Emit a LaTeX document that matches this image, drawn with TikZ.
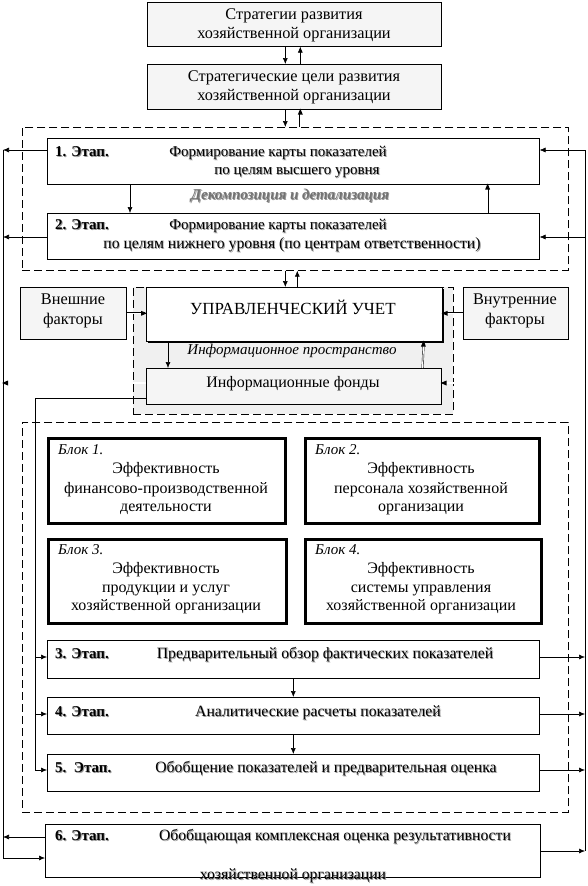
\documentclass[tikz,border=0pt]{standalone}
\usepackage{fontspec}
\setmainfont{Liberation Serif}
\usetikzlibrary{arrows.meta,shadows,decorations.markings}
\newcommand\shtext[1]{\makebox[0pt][l]{\hspace{0.9pt}\raisebox{-0.9pt}{\textcolor{black!40}{#1}}}#1}
\begin{document}
\begin{tikzpicture}[x=1pt,y=-1pt,
  box/.style={draw, line width=0.6pt, rectangle, inner sep=0pt, anchor=north west},
  lightbox/.style={box, fill=gray!8},
  blockbox/.style={draw, line width=3.2pt, rectangle, inner sep=0pt, anchor=north west, fill=white},
  dashbox/.style={draw, line width=0.7pt, dash pattern=on 8pt off 4pt, rectangle, inner sep=0pt, anchor=north west},
  txt/.style={inner sep=0pt, font=\fontsize{15}{18}\selectfont, text height=10pt, text depth=3pt},
  ltxt/.style={txt, font=\fontsize{15.7}{18}\selectfont},
  ktxt/.style={txt, font=\fontsize{16}{19}\selectfont},
  bigtxt/.style={txt, font=\fontsize{16.3}{19}\selectfont},
  stxt/.style={txt, anchor=west},
  conn/.style={line width=0.6pt},
  arr/.style={conn, -{Latex[length=6pt,width=5pt]}},
  darr/.style={line width=0.4pt, double, double distance=1.2pt, shorten >=1pt,
    postaction={decorate, decoration={markings, mark=at position 1 with {\fill[black] (1pt,0pt) -- (-5pt,2.5pt) -- (-5pt,-2.5pt) -- cycle;}}}}
]
\useasboundingbox (0,0) rectangle (588,886);
\fill[white] (0,0) rectangle (588,886);

% top boxes
\node[lightbox, minimum width=294pt, minimum height=44pt] (A) at (147,2) {};
\node[bigtxt] (A1) at (294,16) {Стратегии развития};
\node[bigtxt] (A2) at (294,35) {хозяйственной организации};
\node[lightbox, minimum width=294pt, minimum height=45pt] (B) at (147,64) {};
\node[bigtxt] (B1) at (294,78) {Стратегические цели развития};
\node[bigtxt] (B2) at (294,97) {хозяйственной организации};

% dashed region 1
\node[dashbox, minimum width=546pt, minimum height=143pt] (D1) at (22,127) {};
\node[box, fill=white, minimum width=492pt, minimum height=46pt] (S1) at (47,138) {};
\node[stxt, font=\fontsize{15}{18}\selectfont\bfseries] (S1a) at (55,153) {\shtext{1. Этап.}};
\node[txt] (S1b) at (278,153) {\shtext{Формирование карты показателей}};
\node[txt] (S1c) at (297,171) {\shtext{по целям высшего уровня}};
\node[txt, font=\fontsize{15}{18}\selectfont\bfseries\itshape, text=black!55] (DEC) at (290,196) {\shtext{Декомпозиция и детализация}};
\node[box, fill=white, minimum width=492pt, minimum height=46pt] (S2) at (47,213) {};
\node[stxt, font=\fontsize{15}{18}\selectfont\bfseries] (S2a) at (55,226) {\shtext{2. Этап.}};
\node[txt] (S2b) at (278,226) {\shtext{Формирование карты показателей}};
\node[ltxt] (S2c) at (292,245) {\shtext{по целям нижнего уровня (по центрам ответственности)}};

% information space
\node[dashbox, fill=gray!12, minimum width=320pt, minimum height=127pt] (G) at (133,287) {};
\node[box, fill=white, minimum width=296pt, minimum height=54pt, drop shadow={shadow xshift=2pt, shadow yshift=-2pt, fill=black, opacity=1}] (U) at (146,287) {};
\node[txt, font=\fontsize{17}{20}\selectfont] (U1) at (293,311) {УПРАВЛЕНЧЕСКИЙ УЧЕТ};
\node[txt, font=\fontsize{15}{18}\selectfont\itshape] (IP) at (292,351) {Информационное пространство};
\node[lightbox, minimum width=295pt, minimum height=36pt] (F) at (146,368) {};
\node[txt, font=\fontsize{16}{19}\selectfont] (F1) at (293,384) {Информационные фонды};

\node[lightbox, minimum width=106pt, minimum height=52pt] (E) at (20,287) {};
\node[bigtxt] (E1) at (73,301) {Внешние};
\node[bigtxt] (E2) at (73,321) {факторы};
\node[lightbox, minimum width=105pt, minimum height=52pt] (I) at (463,287) {};
\node[bigtxt] (I1) at (515,301) {Внутренние};
\node[bigtxt] (I2) at (515,321) {факторы};

% dashed region 2
\node[dashbox, minimum width=546pt, minimum height=390pt] (D2) at (22,422) {};
\node[blockbox, minimum width=237pt, minimum height=85pt] (K1) at (47,437) {};
\node[stxt, font=\fontsize{15}{18}\selectfont\itshape] (K1a) at (58,451) {Блок 1.};
\node[ktxt] (K1b) at (166,470) {Эффективность};
\node[ktxt] (K1c) at (166,490) {финансово-производственной};
\node[ktxt] (K1d) at (166,508) {деятельности};
\node[blockbox, minimum width=234pt, minimum height=85pt] (K2) at (304,437) {};
\node[stxt, font=\fontsize{15}{18}\selectfont\itshape] (K2a) at (315,451) {Блок 2.};
\node[ktxt] (K2b) at (421,470) {Эффективность};
\node[ktxt] (K2c) at (421,490) {персонала хозяйственной};
\node[ktxt] (K2d) at (421,508) {организации};
\node[blockbox, minimum width=238pt, minimum height=84pt] (K3) at (47,538) {};
\node[stxt, font=\fontsize{15}{18}\selectfont\itshape] (K3a) at (58,551) {Блок 3.};
\node[ktxt] (K3b) at (166,570) {Эффективность};
\node[ktxt] (K3c) at (166,589) {продукции и услуг};
\node[ktxt] (K3d) at (166,607) {хозяйственной организации};
\node[blockbox, minimum width=236pt, minimum height=84pt] (K4) at (304,538) {};
\node[stxt, font=\fontsize{15}{18}\selectfont\itshape] (K4a) at (315,551) {Блок 4.};
\node[ktxt] (K4b) at (421,570) {Эффективность};
\node[ktxt] (K4c) at (421,589) {системы управления};
\node[ktxt] (K4d) at (421,607) {хозяйственной организации};

\node[box, fill=white, minimum width=492pt, minimum height=38pt] (S3) at (47,640) {};
\node[stxt, font=\fontsize{15}{18}\selectfont\bfseries] (S3a) at (55,655) {\shtext{3. Этап.}};
\node[ltxt] (S3b) at (325,655) {\shtext{Предварительный обзор фактических показателей}};
\node[box, fill=white, minimum width=492pt, minimum height=37pt] (S4) at (47,697) {};
\node[stxt, font=\fontsize{15}{18}\selectfont\bfseries] (S4a) at (55,713) {\shtext{4. Этап.}};
\node[ltxt] (S4b) at (318,713) {\shtext{Аналитические расчеты показателей}};
\node[box, fill=white, minimum width=492pt, minimum height=37pt] (S5) at (47,754) {};
\node[stxt, font=\fontsize{15}{18}\selectfont\bfseries] (S5a) at (55,769) {\shtext{5.\ \ Этап.}};
\node[ltxt] (S5b) at (326,769) {\shtext{Обобщение показателей и предварительная оценка}};

\node[box, fill=white, minimum width=495pt, minimum height=53pt] (S6) at (45,824) {};
\node[stxt, font=\fontsize{15}{18}\selectfont\bfseries] (S6a) at (55,837) {\shtext{6. Этап.}};
\node[ltxt] (S6b) at (335,837) {\shtext{Обобщающая комплексная оценка результативности}};
\node[ltxt] (S6c) at (293,876) {\shtext{хозяйственной организации}};

% bus coordinates
\coordinate (LB1) at (3,150);
\coordinate (LB2) at (3,237);
\coordinate (LB3) at (3,383);
\coordinate (LB6a) at (3,837);
\coordinate (LB6b) at (3,858);
\coordinate (RB1) at (585,150);
\coordinate (RB2) at (585,237);
\coordinate (RB3) at (585,383);
\coordinate (RB3s) at (585,657);
\coordinate (RB4) at (585,714);
\coordinate (RB5) at (585,770);
\coordinate (RB6) at (585,851);
\coordinate (IL0) at (35,398);
\coordinate (IL3) at (35,657);
\coordinate (IL4) at (35,714);
\coordinate (IL5) at (35,770);

% vertical arrows
\draw[arr] ([xshift=-9pt]A.south) -- ([xshift=-9pt]B.north);
\draw[arr] ([xshift=6pt]B.north) -- ([xshift=6pt]A.south);
\draw[arr] ([xshift=-9pt]B.south) -- ([xshift=-9pt]B.south |- D1.north);
\draw[darr] ([xshift=6pt]B.south |- D1.north) -- ([xshift=6pt]B.south);
\draw[arr] ([xshift=83pt]S1.south west) -- ([xshift=83pt]S2.north west);
\draw[darr] ([xshift=-52pt]S2.north east) -- ([xshift=-52pt]S1.south east);
\draw[arr] ([xshift=-9pt]U.north |- D1.south) -- ([xshift=-9pt]U.north);
\draw[arr] ([xshift=3pt]U.north) -- ([xshift=3pt]U.north |- D1.south);
\draw[darr] (E.east) -- (E.east -| U.west);
\draw[darr] (I.west) -- (I.west -| U.east);
\draw[arr] ([xshift=22pt]U.south west) -- ([xshift=22pt]F.north west);
\draw[darr] ([xshift=-19pt]F.north east) -- ([xshift=-19pt]U.south east);
\draw[arr] (S3.south) -- (S4.north);
\draw[arr] (S4.south) -- (S5.north);

% left bus
\draw[arr] (LB1) -- (LB6b) -- (S6.west |- LB6b);
\draw[arr] (S1.west |- LB1) -- (LB1);
\draw[arr] (S2.west |- LB2) -- (LB2);
\draw[darr] (F.west |- LB3) -- (LB3);
\draw[arr] (S6.west |- LB6a) -- (LB6a);

% right bus
\draw[conn] (RB1) -- (RB6);
\draw[arr] (RB1) -- (S1.east |- RB1);
\draw[arr] (RB2) -- (S2.east |- RB2);
\draw[darr] (RB3) -- (F.east |- RB3);
\draw[arr] (S3.east |- RB3s) -- (RB3s);
\draw[arr] (S4.east |- RB4) -- (RB4);
\draw[arr] (S5.east |- RB5) -- (RB5);
\draw[arr] (S6.east |- RB6) -- (RB6);

% inner left line
\draw[conn] (F.west |- IL0) -- (IL0) -- (IL5);
\draw[arr] (IL3) -- (S3.west |- IL3);
\draw[arr] (IL4) -- (S4.west |- IL4);
\draw[arr] (IL5) -- (S5.west |- IL5);
\end{tikzpicture}
\end{document}
